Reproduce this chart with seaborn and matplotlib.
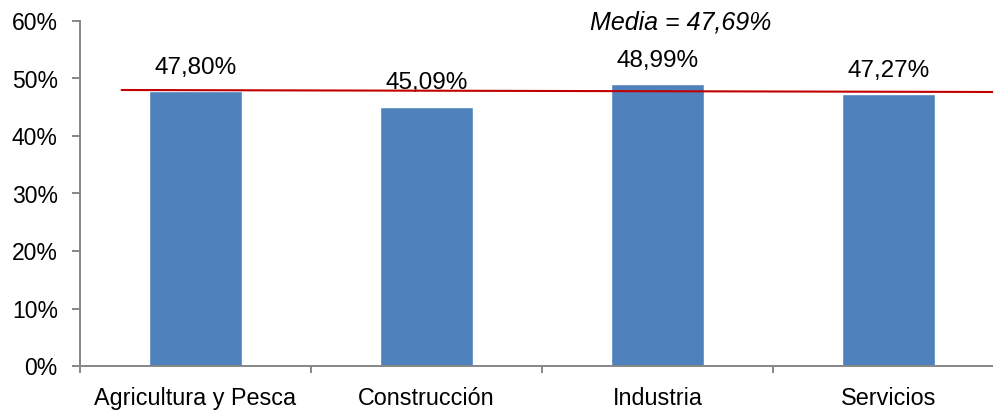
import numpy as np
import pandas as pd
import matplotlib
matplotlib.use("Agg")
import matplotlib.pyplot as plt
from matplotlib.ticker import FuncFormatter
import seaborn as sns

# Data
sectors = ["Agricultura y Pesca", "Construcción", "Industria", "Servicios"]
values = [47.80, 45.09, 48.99, 47.27]
mean_value = 47.69
# the mean line as drawn in the original (slightly tilted)
mean_line_x = [-0.32, 3.5]
mean_line_y = [48.0, 47.65]
y_ticks = [0, 10, 20, 30, 40, 50, 60]

BAR_COLOR = "#4F81BD"
LINE_COLOR = "#C00000"
AXIS_GRAY = "#868686"


def fmt_pct(v, decimals=2):
    return f"{v:.{decimals}f}".replace(".", ",") + "%"


def main():
    df = pd.DataFrame({"Sector": sectors, "Valor": values})

    sns.set_theme(style="white")
    plt.rcParams["font.family"] = ["Liberation Sans", "DejaVu Sans"]

    fig = plt.figure(figsize=(9.93, 4.11), dpi=100)
    ax = fig.add_axes([80 / 993, 45 / 411, 924 / 993, 345 / 411])

    sns.barplot(data=df, x="Sector", y="Valor", color=BAR_COLOR,
                width=0.4, saturation=1, ax=ax)

    # value labels above the bars
    for i, v in enumerate(values):
        ax.annotate(fmt_pct(v), (i, v), xytext=(0, 9), textcoords="offset points",
                    ha="center", va="bottom", fontsize=17.5, color="black")

    # mean line and its label
    ax.plot(mean_line_x, mean_line_y, color=LINE_COLOR, lw=1.5, zorder=3)
    ax.text(2.1, 58.6, "Media = " + fmt_pct(mean_value), ha="center",
            va="baseline", fontsize=18, style="italic", color="black")

    ax.set_xlim(-0.5, 3.5)
    ax.set_ylim(0, 60)
    ax.set_yticks(y_ticks)
    ax.yaxis.set_major_formatter(FuncFormatter(lambda v, _: f"{v:.0f}%"))
    ax.set_xlabel("")
    ax.set_ylabel("")

    # spines
    for side in ["top", "right"]:
        ax.spines[side].set_visible(False)
    for side in ["left", "bottom"]:
        ax.spines[side].set_color(AXIS_GRAY)
        ax.spines[side].set_linewidth(1.4)

    # ticks: category boundaries get the marks, labels sit at centers
    ax.set_xticks([-0.5, 0.5, 1.5, 2.5, 3.5], minor=True)
    ax.tick_params(axis="x", which="major", length=0, pad=15, labelsize=16.8,
                   colors="black")
    ax.tick_params(axis="x", which="minor", bottom=True, length=5, width=1.4,
                   color=AXIS_GRAY)
    ax.tick_params(axis="y", which="major", left=True, length=6, width=1.4,
                   color=AXIS_GRAY, pad=10, labelsize=16.5, labelcolor="black")

    fig.savefig("out.png", dpi=100)


if __name__ == "__main__":
    main()
